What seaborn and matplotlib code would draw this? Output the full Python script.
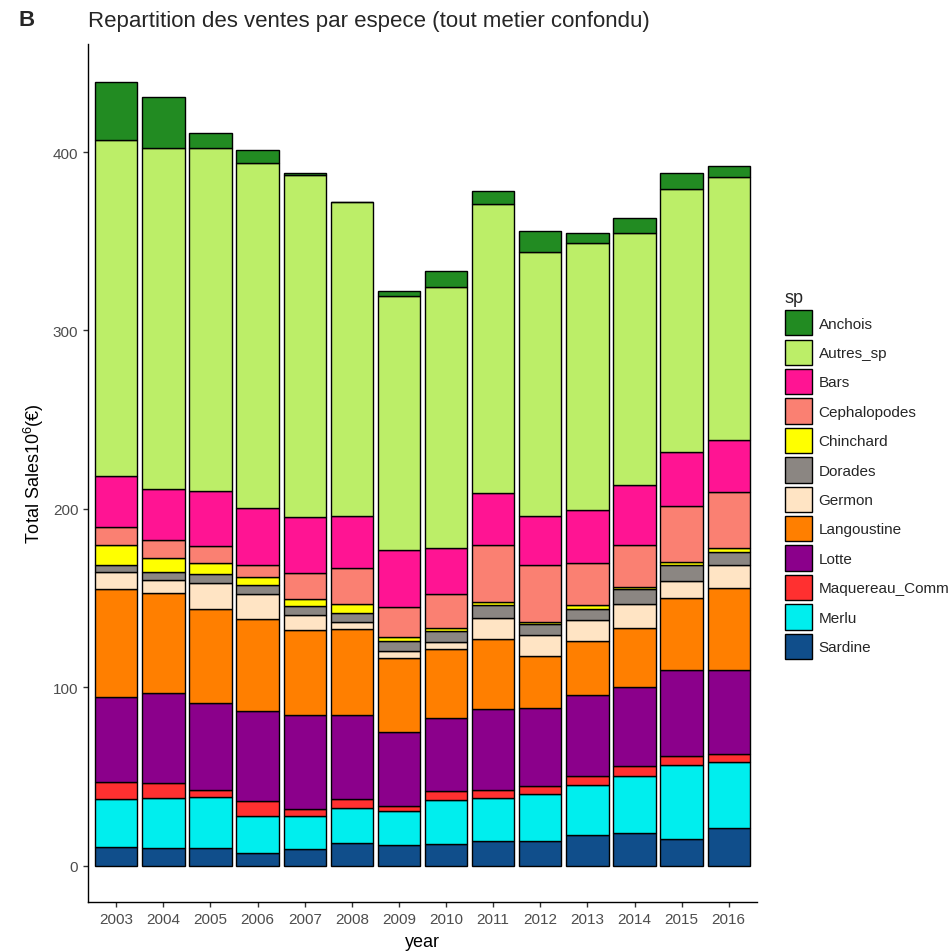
import matplotlib
matplotlib.use('Agg')
import matplotlib.pyplot as plt
from matplotlib.patches import Patch
import seaborn as sns
import pandas as pd

# sales per species and year (millions of euros)
years = [2003, 2004, 2005, 2006, 2007, 2008, 2009, 2010, 2011, 2012, 2013, 2014, 2015, 2016]

species = ['Anchois', 'Autres_sp', 'Bars', 'Cephalopodes', 'Chinchard', 'Dorades',
           'Germon', 'Langoustine', 'Lotte', 'Maquereau_Comm', 'Merlu', 'Sardine']

anchois = [32.5, 28.2, 8.6, 7.5, 0.8, 0.0, 2.8, 8.9, 7.1, 11.8, 5.5, 8.1, 9.2, 5.8]
autres_sp = [188.4, 191.3, 192.1, 193.4, 192.0, 175.8, 142.6, 146.5, 162.0, 148.4, 149.4, 141.2, 147.2, 147.4]
bars = [28.5, 28.6, 31.2, 31.6, 31.3, 29.2, 31.6, 25.7, 28.9, 27.5, 30.0, 34.0, 30.3, 29.2]
cephalopodes = [10.2, 10.3, 9.5, 6.7, 14.4, 20.5, 17.2, 19.2, 32.2, 31.7, 23.3, 23.5, 31.6, 31.5]
chinchard = [11.3, 7.5, 6.3, 4.5, 4.3, 4.9, 2.1, 1.9, 1.5, 1.3, 2.3, 1.3, 1.9, 2.3]
dorades = [4.2, 4.6, 4.5, 5.2, 5.0, 5.0, 5.4, 5.9, 7.5, 5.8, 6.5, 8.4, 8.9, 7.1]
germon = [9.6, 7.3, 15.0, 14.3, 8.4, 3.9, 4.1, 4.0, 11.6, 12.0, 11.6, 13.0, 9.4, 13.1]
langoustine = [60.2, 56.1, 52.5, 51.5, 47.3, 48.1, 41.7, 38.5, 39.2, 29.1, 30.5, 33.3, 40.2, 46.1]
lotte = [48.0, 50.4, 48.6, 50.5, 52.7, 47.4, 41.1, 41.0, 45.8, 44.0, 45.4, 44.5, 48.6, 46.7]
maquereau = [9.0, 8.5, 4.1, 8.4, 4.3, 4.7, 2.9, 5.1, 4.1, 4.2, 5.0, 5.2, 5.0, 4.7]
merlu = [27.1, 28.0, 28.6, 20.3, 18.1, 19.8, 19.3, 24.9, 24.3, 26.4, 27.6, 32.1, 41.2, 37.0]
sardine = [10.5, 9.9, 9.9, 7.3, 9.5, 12.7, 11.4, 11.9, 13.8, 13.8, 17.4, 18.3, 15.0, 21.1]

colors = ['#228B22', '#BCEE68', '#FF1493', '#FA8072', '#FFFF00', '#8B8682',
          '#FFE4C4', '#FF7F00', '#8B008B', '#FF3030', '#00EEEE', '#104E8B']

series = [anchois, autres_sp, bars, cephalopodes, chinchard, dorades,
          germon, langoustine, lotte, maquereau, merlu, sardine]

rows = []
for sp, vals in zip(species, series):
    for yr, v in zip(years, vals):
        rows.append({'year': yr, 'sp': sp, 'sales': v})
df = pd.DataFrame(rows)

sns.set_style('ticks')
plt.rcParams['font.family'] = ['Liberation Sans', 'DejaVu Sans']
plt.rcParams['mathtext.fontset'] = 'custom'
plt.rcParams['mathtext.rm'] = 'Liberation Sans'

fig = plt.figure(figsize=(9.53, 9.53), dpi=100)
ax = fig.add_axes([88 / 953, 1 - 903 / 953, (757 - 88) / 953, (903 - 45) / 953])

palette = dict(zip(species, colors))
sns.histplot(data=df, x='year', weights='sales', hue='sp', hue_order=species,
             multiple='stack', discrete=True, shrink=0.9, palette=palette,
             edgecolor='black', linewidth=1.0, alpha=1, legend=False, ax=ax)

ax.set_xlim(years[0] - 0.6, years[-1] + 0.6)
ax.set_ylim(-20.4, 460.6)
ax.set_xticks(years)
ax.set_xticklabels([str(y) for y in years])
ax.set_yticks([0, 100, 200, 300, 400])

ax.set_xlabel('year', fontsize=13, color='black', labelpad=5)
ax.set_ylabel(r'Total Sales$\mathregular{10^6}$(€)', fontsize=13, color='black', labelpad=5)
ax.tick_params(axis='both', labelsize=11, labelcolor='#4D4D4D', color='#333333',
               length=3.5, width=1)

sns.despine(ax=ax)
for s in ['left', 'bottom']:
    ax.spines[s].set_color('black')
    ax.spines[s].set_linewidth(1.0)
ax.grid(False)

fig.text(88 / 953, 1 - 21 / 953, 'Repartition des ventes par espece (tout metier confondu)',
         fontsize=16, ha='left', va='center')
fig.text(18 / 953, 1 - 21 / 953, 'B', fontsize=16, fontweight='bold', ha='left', va='center')

handles = [Patch(facecolor=c, edgecolor='black', linewidth=1.0) for c in colors]
leg = fig.legend(handles, species, title='sp', loc='upper left',
                 bbox_to_anchor=(785 / 953, 1 - 290 / 953), frameon=False,
                 fontsize=11, title_fontsize=13, handlelength=1.75, handleheight=2.17,
                 labelspacing=0.27, handletextpad=0.45, borderpad=0, borderaxespad=0,
                 alignment='left')

fig.savefig('out.png', dpi=100)
